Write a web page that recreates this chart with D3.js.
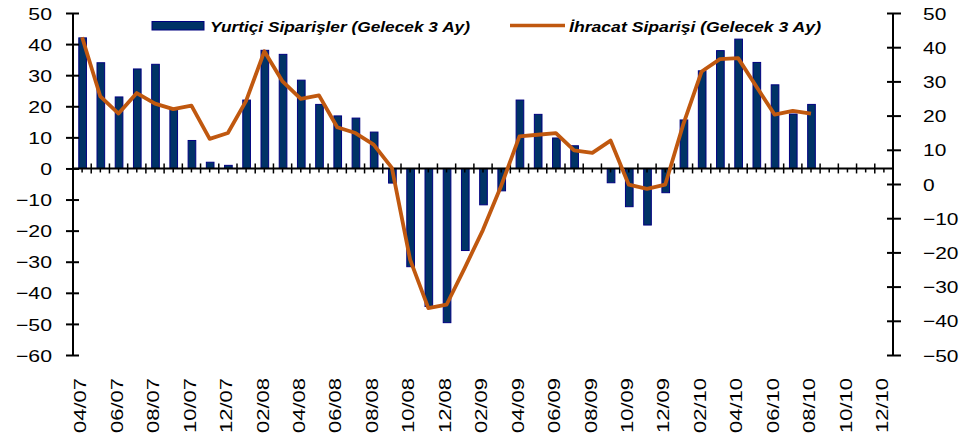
<!DOCTYPE html>
<html><head><meta charset="utf-8">
<script src="https://cdn.jsdelivr.net/npm/d3@7"></script>
<style>body{margin:0;background:#fff}svg{display:block}text{font-family:"Liberation Sans",Arial,sans-serif}</style>
</head><body>
<script>
const categories = ["04/07","05/07","06/07","07/07","08/07","09/07","10/07","11/07","12/07",
"01/08","02/08","03/08","04/08","05/08","06/08","07/08","08/08","09/08","10/08","11/08","12/08",
"01/09","02/09","03/09","04/09","05/09","06/09","07/09","08/09","09/09","10/09","11/09","12/09",
"01/10","02/10","03/10","04/10","05/10","06/10","07/10","08/10","09/10","10/10","11/10","12/10"];
const domesticOrders = [42,34,23,32,33.5,19,9,2,1,22,38,36.7,28.4,20.6,16.9,16.2,11.7,-4.7,-31.6,-44.4,
-49.6,-26.4,-11.7,-7.2,22,17.4,9.8,7.3,0,-4.6,-12.3,-18.2,-7.8,15.6,31.4,37.9,41.6,34.1,26.9,17.5,20.6];
const exportOrders = [42.9,25.6,20.6,26.6,23.5,21.9,22.9,13.2,14.9,24.3,38.8,30,24.9,25.9,16.6,14.9,11.5,4.7,-22.1,-36.3,
-35.3,-24.5,-13.4,-0.5,13.9,14.4,14.9,9.8,9.1,12.7,-0.2,-1.4,-0.2,17.6,32.9,36.5,36.8,28.5,20.3,21.4,20.6];
const leftTicks = [-60,-50,-40,-30,-20,-10,0,10,20,30,40,50];
const rightTicks = [-50,-40,-30,-20,-10,0,10,20,30,40,50];
const seriesNames = ["Yurtiçi Siparişler (Gelecek 3 Ay)","İhracat Siparişi (Gelecek 3 Ay)"];

const W=968,H=436;
const svg=d3.select("body").append("svg").attr("width",W).attr("height",H);
const x0=73,x1=893,yTop=13,yBot=355;
const x=d3.scaleBand().domain(categories).range([x0,x1]).padding(0);
const yL=d3.scaleLinear().domain([-60,50]).range([yBot,yTop]);
const yR=d3.scaleLinear().domain([-50,50]).range([yBot,yTop]);
const barColor="#003366", barStroke="#000080", lineColor="#c0580f";

// bars
const bw=x.bandwidth()*0.42;
svg.append("g").selectAll("rect").data(domesticOrders).join("rect")
  .attr("x",(d,i)=>x(categories[i])+x.bandwidth()/2-bw/2+0.5)
  .attr("y",d=>Math.min(yL(d),yL(0)))
  .attr("width",bw)
  .attr("height",d=>Math.abs(yL(d)-yL(0)))
  .attr("fill",barColor).attr("stroke",barStroke).attr("stroke-width",1);

// x axis baseline & ticks
const gx=svg.append("g");
gx.append("line").attr("x1",x0).attr("x2",x1).attr("y1",yL(0)).attr("y2",yL(0)).attr("stroke","#000").attr("stroke-width",2);
const bounds=d3.range(categories.length+1).map(i=>x0+i*x.bandwidth());
gx.selectAll(".bt").data(bounds).join("line").attr("x1",d=>d).attr("x2",d=>d)
  .attr("y1",yL(0)-5).attr("y2",yL(0)+5).attr("stroke","#000").attr("stroke-width",1.5);
gx.selectAll(".st").data(categories).join("line")
  .attr("x1",d=>x(d)+x.bandwidth()/2).attr("x2",d=>x(d)+x.bandwidth()/2)
  .attr("y1",yL(0)).attr("y2",yL(0)+4).attr("stroke","#000").attr("stroke-width",1.5);

// x labels
svg.append("g").selectAll("text").data(categories.filter((d,i)=>i%2===0)).join("text")
  .attr("transform",d=>`translate(${x(d)+x.bandwidth()/2-1.5},378) rotate(-90)`)
  .attr("text-anchor","end").attr("dy","0.36em")
  .attr("font-size",16).attr("fill","#000")
  .attr("textLength",55).attr("lengthAdjust","spacingAndGlyphs")
  .text(d=>d);

// line
const line=d3.line().x((d,i)=>x(categories[i])+x.bandwidth()/2).y(d=>yR(d));
svg.append("path").datum(exportOrders).attr("d",line).attr("fill","none")
  .attr("stroke",lineColor).attr("stroke-width",3.8).attr("stroke-linejoin","round");

// left axis
const axL=d3.axisLeft(yL).tickValues(leftTicks).tickSize(7).tickPadding(14);
const gL=svg.append("g").attr("transform",`translate(${x0},0)`).call(axL);
gL.select(".domain").attr("stroke-width",2).attr("d",`M0,${yTop}V${yBot}`);
gL.selectAll(".tick line").attr("x1",6).attr("x2",-7).attr("stroke-width",2);
gL.selectAll(".tick text").attr("font-size",17).attr("font-family","Liberation Sans, Arial, sans-serif").attr("dy","0.36em")
  .each(function(){const l=this.getComputedTextLength();d3.select(this).attr("textLength",l*1.25).attr("lengthAdjust","spacingAndGlyphs");});

// right axis
const axR=d3.axisRight(yR).tickValues(rightTicks).tickSize(7).tickPadding(23);
const gR=svg.append("g").attr("transform",`translate(${x1},0)`).call(axR);
gR.select(".domain").attr("stroke-width",2).attr("d",`M0,${yTop}V${yBot}`);
gR.selectAll(".tick line").attr("x1",-6).attr("x2",8).attr("stroke-width",2);
gR.selectAll(".tick text").attr("font-size",17).attr("font-family","Liberation Sans, Arial, sans-serif").attr("dy","0.36em")
  .each(function(){const l=this.getComputedTextLength();d3.select(this).attr("textLength",l*1.23).attr("lengthAdjust","spacingAndGlyphs");});

// legend
const lg=svg.append("g");
lg.append("rect").attr("x",152).attr("y",21.5).attr("width",52).attr("height",8.5).attr("fill",barColor).attr("stroke",barStroke);
lg.append("text").attr("x",210).attr("y",32).attr("font-size",14).attr("font-weight","bold").attr("font-style","italic")
  .attr("textLength",260).attr("lengthAdjust","spacingAndGlyphs").text(seriesNames[0]);
lg.append("line").attr("x1",510).attr("x2",565).attr("y1",25.5).attr("y2",25.5).attr("stroke",lineColor).attr("stroke-width",3.5);
lg.append("text").attr("x",569).attr("y",32).attr("font-size",14).attr("font-weight","bold").attr("font-style","italic")
  .attr("textLength",252).attr("lengthAdjust","spacingAndGlyphs").text(seriesNames[1]);
</script>
</body></html>
